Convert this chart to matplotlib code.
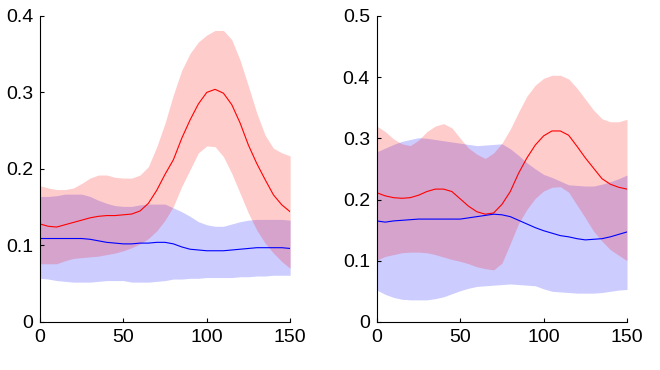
import matplotlib
matplotlib.use("Agg")
import matplotlib.pyplot as plt
from matplotlib.ticker import FuncFormatter

# sample positions (x), every 5 units
x = list(range(0, 151, 5))

# left panel
l_red_mean = [0.128, 0.125, 0.124, 0.127, 0.130, 0.133, 0.136, 0.138, 0.139, 0.139,
              0.140, 0.141, 0.145, 0.155, 0.172, 0.193, 0.212, 0.240, 0.264, 0.285,
              0.300, 0.304, 0.299, 0.284, 0.260, 0.231, 0.207, 0.186, 0.166, 0.153, 0.144]
l_red_hi = [0.178, 0.175, 0.173, 0.173, 0.175, 0.181, 0.188, 0.192, 0.192, 0.189,
            0.188, 0.188, 0.192, 0.203, 0.229, 0.260, 0.297, 0.329, 0.351, 0.366,
            0.375, 0.381, 0.381, 0.369, 0.342, 0.308, 0.273, 0.244, 0.227, 0.221, 0.217]
l_red_lo = [0.076, 0.076, 0.076, 0.080, 0.083, 0.084, 0.085, 0.086, 0.088, 0.090,
            0.093, 0.097, 0.102, 0.109, 0.119, 0.133, 0.151, 0.177, 0.199, 0.221,
            0.230, 0.229, 0.216, 0.194, 0.168, 0.142, 0.120, 0.103, 0.090, 0.079, 0.070]
l_blue_mean = [0.109, 0.109, 0.109, 0.109, 0.109, 0.109, 0.108, 0.106, 0.104, 0.103,
               0.102, 0.102, 0.103, 0.103, 0.104, 0.104, 0.102, 0.098, 0.095, 0.094,
               0.093, 0.093, 0.093, 0.094, 0.095, 0.096, 0.097, 0.097, 0.097, 0.097, 0.096]
l_blue_hi = [0.164, 0.164, 0.165, 0.167, 0.167, 0.167, 0.164, 0.159, 0.155, 0.152,
             0.151, 0.151, 0.153, 0.154, 0.154, 0.154, 0.149, 0.144, 0.138, 0.131,
             0.127, 0.125, 0.125, 0.128, 0.131, 0.133, 0.134, 0.134, 0.134, 0.134, 0.133]
l_blue_lo = [0.057, 0.056, 0.054, 0.053, 0.052, 0.052, 0.052, 0.053, 0.054, 0.054,
             0.054, 0.052, 0.052, 0.052, 0.053, 0.054, 0.056, 0.056, 0.057, 0.057,
             0.058, 0.058, 0.058, 0.058, 0.059, 0.059, 0.060, 0.060, 0.061, 0.061, 0.061]

# right panel
r_red_mean = [0.211, 0.206, 0.203, 0.202, 0.203, 0.207, 0.213, 0.217, 0.217, 0.213,
              0.201, 0.189, 0.180, 0.176, 0.178, 0.192, 0.213, 0.243, 0.268, 0.289,
              0.304, 0.312, 0.312, 0.305, 0.287, 0.268, 0.251, 0.234, 0.225, 0.220, 0.217]
r_red_hi = [0.320, 0.311, 0.299, 0.291, 0.288, 0.297, 0.311, 0.320, 0.324, 0.317,
            0.300, 0.284, 0.274, 0.267, 0.276, 0.292, 0.315, 0.343, 0.369, 0.387,
            0.398, 0.403, 0.403, 0.397, 0.382, 0.364, 0.346, 0.332, 0.327, 0.327, 0.331]
r_red_lo = [0.101, 0.107, 0.110, 0.113, 0.114, 0.114, 0.113, 0.110, 0.106, 0.102,
            0.099, 0.095, 0.090, 0.087, 0.085, 0.096, 0.128, 0.161, 0.184, 0.202,
            0.214, 0.220, 0.221, 0.212, 0.191, 0.170, 0.148, 0.132, 0.118, 0.109, 0.100]
r_blue_mean = [0.165, 0.163, 0.165, 0.166, 0.167, 0.168, 0.168, 0.168, 0.168, 0.168,
               0.168, 0.170, 0.172, 0.174, 0.176, 0.175, 0.172, 0.166, 0.160, 0.154,
               0.149, 0.145, 0.141, 0.139, 0.136, 0.134, 0.135, 0.136, 0.139, 0.143, 0.147]
r_blue_hi = [0.278, 0.284, 0.290, 0.295, 0.298, 0.301, 0.300, 0.298, 0.296, 0.294,
             0.292, 0.290, 0.288, 0.289, 0.290, 0.291, 0.283, 0.272, 0.260, 0.250,
             0.241, 0.236, 0.230, 0.224, 0.223, 0.222, 0.222, 0.225, 0.229, 0.234, 0.240]
r_blue_lo = [0.052, 0.045, 0.040, 0.037, 0.036, 0.036, 0.036, 0.038, 0.041, 0.046,
             0.051, 0.055, 0.058, 0.059, 0.060, 0.061, 0.062, 0.061, 0.060, 0.059,
             0.054, 0.050, 0.049, 0.048, 0.047, 0.047, 0.047, 0.048, 0.050, 0.052, 0.053]

x_ticks = [0, 50, 100, 150]

plt.rcParams['font.family'] = ['Liberation Sans', 'DejaVu Sans']

fig = plt.figure(figsize=(6.6, 3.7), dpi=100)
ax1 = fig.add_axes([0.0606, 0.130, 0.379, 0.827])
ax2 = fig.add_axes([0.571, 0.130, 0.379, 0.827])

panels = [
    (ax1, l_red_mean, l_red_hi, l_red_lo, l_blue_mean, l_blue_hi, l_blue_lo, 0.4),
    (ax2, r_red_mean, r_red_hi, r_red_lo, r_blue_mean, r_blue_hi, r_blue_lo, 0.5),
]

for ax, rm, rh, rl, bm, bh, bl, ymax in panels:
    ax.fill_between(x, bl, bh, color='blue', alpha=0.2, linewidth=0)
    ax.fill_between(x, rl, rh, color='red', alpha=0.2, linewidth=0)
    ax.plot(x, rm, color='red', linewidth=0.8)
    ax.plot(x, bm, color='blue', linewidth=0.8)
    ax.set_xlim(0, 150)
    ax.set_ylim(0, ymax)
    ax.set_xticks(x_ticks)
    ax.set_yticks([i / 10 for i in range(int(round(ymax * 10)) + 1)])
    ax.yaxis.set_major_formatter(FuncFormatter(lambda v, p: '%g' % v))
    ax.spines['top'].set_visible(False)
    ax.spines['right'].set_visible(False)
    for s in ('left', 'bottom'):
        ax.spines[s].set_linewidth(0.8)
    ax.tick_params(direction='in', length=3, width=0.8, labelsize=14, pad=5)

fig.savefig('out.png', dpi=100)
plt.close(fig)
